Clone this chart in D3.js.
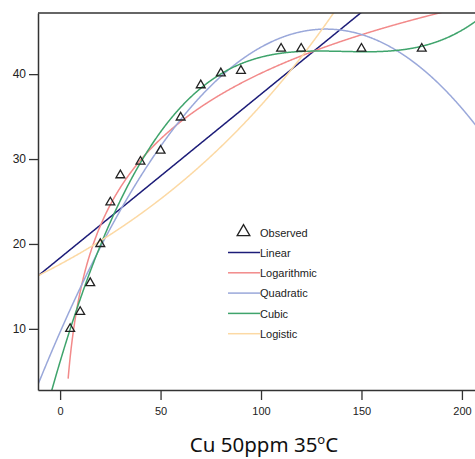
<!DOCTYPE html>
<html><head><meta charset="utf-8">
<script src="https://cdn.jsdelivr.net/npm/d3@7"></script>
<style>body{margin:0;background:#fff}</style>
</head><body>
<svg id="c" width="475" height="459"></svg>
<script>
// Observed data (dose vs response)
const obsX = [5,10,15,20,25,30,40,50,60,70,80,90,110,120,150,180];
const obsY = [10,12,15.4,20,24.9,28.1,29.7,31,34.9,38.7,40.1,40.4,43,43,43,43];
const xTicks = [0,50,100,150,200];
const yTicks = [10,20,30,40];
const models = ["Linear","Logarithmic","Quadratic","Cubic","Logistic"];
const modelColors = ["#1c1c78","#f28a8a","#9aa8da","#3fa46c","#fcd9a4"];
const titleMain = "Cu 50ppm 35";
const titleSup = "o";
const titleEnd = "C";

// least squares polynomial fit
function polyFit(xs, ys, deg){
  const n = deg+1;
  const A = Array.from({length:n},()=>new Array(n+1).fill(0));
  xs.forEach((x,i)=>{
    for(let r=0;r<n;r++){
      for(let c=0;c<n;c++) A[r][c]+=Math.pow(x,r+c);
      A[r][n]+=ys[i]*Math.pow(x,r);
    }
  });
  for(let i=0;i<n;i++){
    let p=i; for(let k=i+1;k<n;k++) if(Math.abs(A[k][i])>Math.abs(A[p][i])) p=k;
    [A[i],A[p]]=[A[p],A[i]];
    for(let k=i+1;k<n;k++){const f=A[k][i]/A[i][i]; for(let j=i;j<=n;j++) A[k][j]-=f*A[i][j];}
  }
  const b=new Array(n).fill(0);
  for(let i=n-1;i>=0;i--){let s=A[i][n]; for(let j=i+1;j<n;j++) s-=A[i][j]*b[j]; b[i]=s/A[i][i];}
  return b;
}
const poly = b => x => b.reduce((s,c,i)=>s+c*Math.pow(x,i),0);
const linB = polyFit(obsX, obsY, 1);
const quadB = polyFit(obsX, obsY, 2);
const cubB = polyFit(obsX, obsY, 3);
const logB = polyFit(obsX.map(Math.log), obsY, 1);
const lgtB = polyFit(obsX, obsY.map(v=>Math.log(1/v)), 1); // logistic, upper bound = infinity
const fns = [
  poly(linB),
  x => logB[0] + logB[1]*Math.log(x),
  poly(quadB),
  poly(cubB),
  x => 1/(Math.exp(lgtB[0])*Math.pow(Math.exp(lgtB[1]),x))
];

const svg = d3.select("#c");
const x = d3.scaleLinear().domain([-11,207]).range([38,476]);
const y = d3.scaleLinear().domain([2.8,47.2]).range([390,13]);
const axisCol = "#333";

svg.append("clipPath").attr("id","clip").append("rect")
  .attr("x",38).attr("y",13).attr("width",440).attr("height",377);

const grid = d3.range(-11, 207.01, 0.25);
const line = d3.line().x(d=>x(d[0])).y(d=>y(d[1]));
const g = svg.append("g").attr("clip-path","url(#clip)");
models.forEach((m,i)=>{
  const xs = m==="Logarithmic" ? grid.filter(v=>v>=3.8) : grid;
  g.append("path").datum(xs.map(v=>[v,fns[i](v)]))
    .attr("d",line).attr("fill","none")
    .attr("stroke",modelColors[i]).attr("stroke-width",1.5);
});

// observed triangles
const tri = d3.symbol().type(d3.symbolTriangle).size(34);
svg.append("g").selectAll("path").data(obsX).join("path")
  .attr("d",tri)
  .attr("transform",(d,i)=>`translate(${x(d)},${y(obsY[i])})`)
  .attr("fill","none").attr("stroke","#222").attr("stroke-width",1.3);

// frame
svg.append("line").attr("x1",38).attr("x2",476).attr("y1",13).attr("y2",13).attr("stroke",axisCol).attr("stroke-width",1.5);

const xa = svg.append("g").attr("transform","translate(0,390)")
  .call(d3.axisBottom(x).tickValues(xTicks).tickSize(10).tickPadding(7).tickSizeOuter(0));
const ya = svg.append("g").attr("transform","translate(38,0)")
  .call(d3.axisLeft(y).tickValues(yTicks).tickSize(9).tickPadding(3).tickSizeOuter(0));
[xa,ya].forEach(a=>{
  a.select(".domain").attr("stroke",axisCol).attr("stroke-width",1.5);
  a.selectAll(".tick line").attr("stroke",axisCol).attr("stroke-width",1.3);
  a.selectAll("text").attr("fill","#222").attr("font-family","Liberation Sans, Arial, sans-serif").attr("font-size",11);
});
ya.selectAll("text").attr("font-size",12);

// legend
const lg = svg.append("g");
lg.append("path").attr("d",d3.symbol().type(d3.symbolTriangle).size(70))
  .attr("transform","translate(243.5,232)").attr("fill","none").attr("stroke","#222").attr("stroke-width",1.3);
lg.append("text").attr("x",260).attr("y",237).text("Observed")
  .attr("font-family","Liberation Sans, Arial, sans-serif").attr("font-size",11).attr("fill","#222");
models.forEach((m,i)=>{
  const yy = 252.5 + i*20.3;
  lg.append("line").attr("x1",228).attr("x2",260).attr("y1",yy).attr("y2",yy)
    .attr("stroke",modelColors[i]).attr("stroke-width",1.5);
  lg.append("text").attr("x",260).attr("y",yy+4.2).text(m)
    .attr("font-family","Liberation Sans, Arial, sans-serif").attr("font-size",11).attr("fill","#222");
});

// title
const t = svg.append("text").attr("x",264).attr("y",452).attr("text-anchor","middle")
  .attr("font-family","Noto Sans, Open Sans, sans-serif").attr("font-size",20.5).attr("fill","#111");
t.append("tspan").text(titleMain);
t.append("tspan").text(titleSup).attr("font-size",13).attr("dy",-8);
t.append("tspan").text(titleEnd).attr("dy",8);
</script>
</body></html>
